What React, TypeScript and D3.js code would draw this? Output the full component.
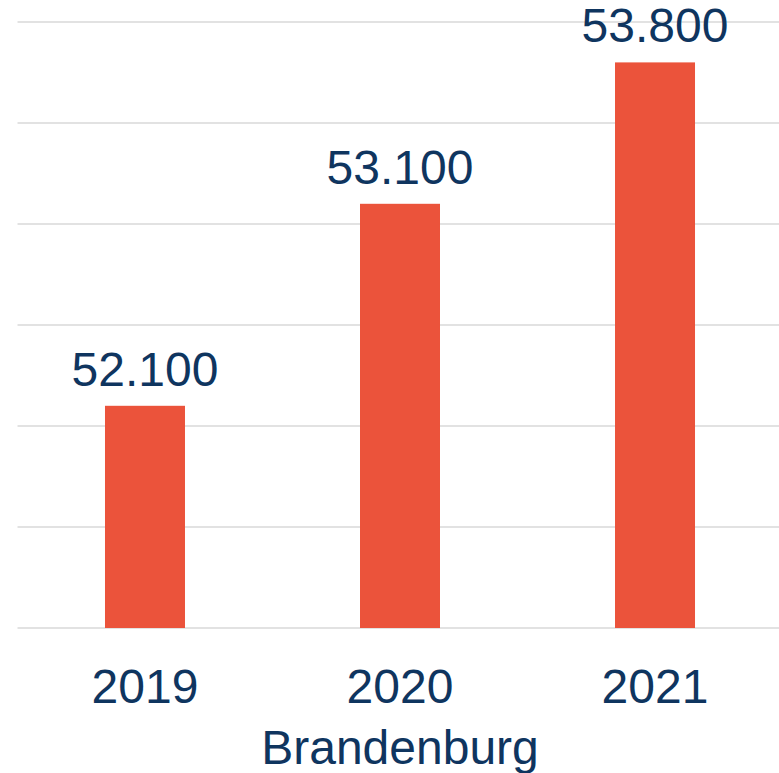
import { scaleBand, scaleLinear, range } from 'd3'

const years = ['2019', '2020', '2021']
const values = [52100, 53100, 53800]
const valueLabels = ['52.100', '53.100', '53.800']
const region = 'Brandenburg'

const W = 779
const H = 773
const margin = { top: 22, bottom: 145, left: 17.5, right: -3.5 }
const textColor = '#0f355f'
const barColor = '#eb533b'
const font = 'Liberation Sans, Arial, sans-serif'

export default function App() {
  const x = scaleBand()
    .domain(years)
    .range([margin.left, W - margin.right])
    .paddingInner(0.6863)
    .paddingOuter(0.3431)
  const y = scaleLinear()
    .domain([51000, 54000])
    .range([H - margin.bottom, margin.top])
  const ticks = range(51000, 54001, 500)
  const base = y(51000)

  return (
    <svg
      width={W}
      height={H}
      style={{ position: 'absolute', left: 0, top: 0, background: '#fff' }}
      fontFamily={font}
    >
      {ticks.map(t => (
        <line
          key={t}
          x1={margin.left}
          x2={W}
          y1={y(t)}
          y2={y(t)}
          stroke='#d9d9d9'
          strokeWidth={1.5}
        />
      ))}
      {years.map((yr, i) => (
        <g key={yr}>
          <rect
            x={x(yr)}
            y={y(values[i])}
            width={x.bandwidth()}
            height={base - y(values[i])}
            fill={barColor}
          />
          <text
            x={(x(yr) ?? 0) + x.bandwidth() / 2}
            y={y(values[i]) - 20}
            textAnchor='middle'
            fontSize={48}
            fill={textColor}
          >
            {valueLabels[i]}
          </text>
          <text
            x={(x(yr) ?? 0) + x.bandwidth() / 2}
            y={base + 75}
            textAnchor='middle'
            fontSize={48}
            fill={textColor}
          >
            {yr}
          </text>
        </g>
      ))}
      <text x={400} y={764} textAnchor='middle' fontSize={48} fill={textColor}>
        {region}
      </text>
    </svg>
  )
}
